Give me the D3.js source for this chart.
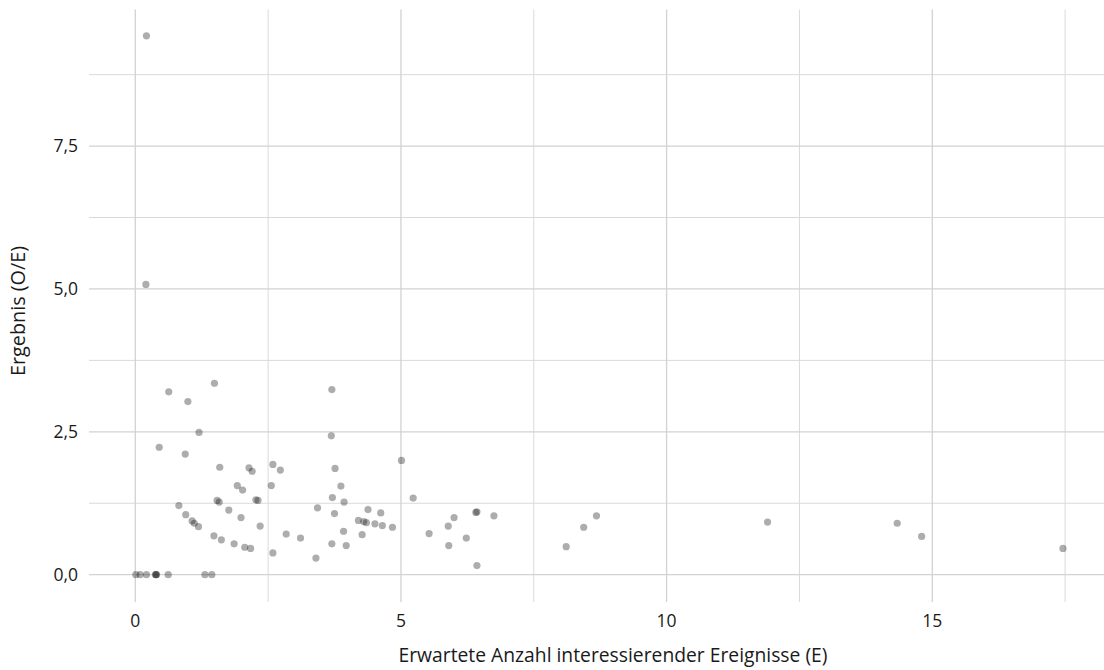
<!DOCTYPE html>
<html><head><meta charset="utf-8">
<script src="https://cdn.jsdelivr.net/npm/d3@7"></script>
<style>body{margin:0;background:#fff}svg{display:block}text{font-family:"Open Sans",Lato,sans-serif;fill:#1a1a1a}</style>
</head><body>
<svg id="c" width="1104" height="670"></svg>
<script>
const expected = [0.21,0.20,0.63,1.49,0.99,1.20,0.45,0.94,1.59,2.14,2.20,2.59,2.73,1.92,2.02,2.56,1.54,1.58,2.27,2.31,0.82,1.76,0.95,1.99,1.07,1.11,1.19,2.35,2.84,1.48,1.62,1.86,2.06,2.17,2.59,
  0.01,0.09,0.21,0.38,0.39,0.40,0.62,1.31,1.44,
  3.70,3.69,5.01,3.76,3.87,3.71,5.23,3.93,3.43,4.38,4.62,3.75,4.20,4.30,4.35,4.51,4.65,4.84,3.11,3.92,4.27,3.70,3.97,3.40,5.53,5.89,6.00,6.41,6.43,6.23,5.90,6.43,6.75,8.68,8.44,8.11,11.90,14.34,14.80,17.46];
const ratio = [9.43,5.08,3.20,3.35,3.03,2.49,2.23,2.11,1.88,1.87,1.81,1.93,1.83,1.56,1.48,1.56,1.30,1.27,1.31,1.30,1.21,1.13,1.05,1.00,0.94,0.90,0.84,0.85,0.71,0.68,0.61,0.54,0.48,0.46,0.38,
  0,0,0,0,0,0,0,0,0,
  3.24,2.43,2.00,1.86,1.55,1.35,1.34,1.27,1.17,1.14,1.08,1.07,0.95,0.93,0.91,0.89,0.86,0.83,0.64,0.76,0.70,0.54,0.51,0.29,0.72,0.85,1.00,1.09,1.10,0.64,0.51,0.16,1.03,1.03,0.83,0.49,0.92,0.90,0.67,0.46];
const xMajor = [0,5,10,15];
const xMinor = [2.5,7.5,12.5,17.5];
const yMajor = [0,2.5,5,7.5];
const yMinor = [1.25,3.75,6.25,8.75];
const xTitle = "Erwartete Anzahl interessierender Ereignisse (E)";
const yTitle = "Ergebnis (O/E)";

const svg = d3.select("#c");
const x = d3.scaleLinear().domain([-0.871, 18.33]).range([89, 1109.2]);
const y = d3.scaleLinear().domain([-0.478, 9.89]).range([602, 9.5]);
const fmt = d => d3.format(".1f")(d).replace(".", ",");

const g = svg.append("g");
g.selectAll(".ym").data(yMinor).join("line").attr("x1",89).attr("x2",1104)
  .attr("y1",d=>y(d)).attr("y2",d=>y(d)).attr("stroke","#dadada").attr("stroke-width",1);
g.selectAll(".xm").data(xMinor).join("line").attr("y1",9.5).attr("y2",602)
  .attr("x1",d=>x(d)).attr("x2",d=>x(d)).attr("stroke","#dadada").attr("stroke-width",1);
g.selectAll(".yM").data(yMajor).join("line").attr("x1",89).attr("x2",1104)
  .attr("y1",d=>y(d)).attr("y2",d=>y(d)).attr("stroke","#d2d2d2").attr("stroke-width",1.3);
g.selectAll(".xM").data(xMajor).join("line").attr("y1",9.5).attr("y2",602)
  .attr("x1",d=>x(d)).attr("x2",d=>x(d)).attr("stroke","#d2d2d2").attr("stroke-width",1.3);

svg.append("g").selectAll("circle").data(expected.map((e,i)=>[e,ratio[i]])).join("circle")
  .attr("cx",d=>x(d[0])).attr("cy",d=>y(d[1])).attr("r",3.6)
  .attr("fill","#000").attr("fill-opacity",0.32);

svg.append("g").selectAll("text").data(xMajor).join("text")
  .attr("x",d=>x(d)).attr("y",627).attr("text-anchor","middle").attr("font-size",17.5).text(d=>d);
svg.append("g").selectAll("text").data(yMajor).join("text")
  .attr("x",78).attr("y",d=>y(d)+6).attr("text-anchor","end").attr("font-size",17.5).text(fmt);

svg.append("text").attr("x",613).attr("y",662).attr("text-anchor","middle").attr("font-size",19.3).text(xTitle);
svg.append("text").attr("transform","translate(25,311) rotate(-90)").attr("text-anchor","middle").attr("font-size",19.8).text(yTitle);
</script>
</body></html>
